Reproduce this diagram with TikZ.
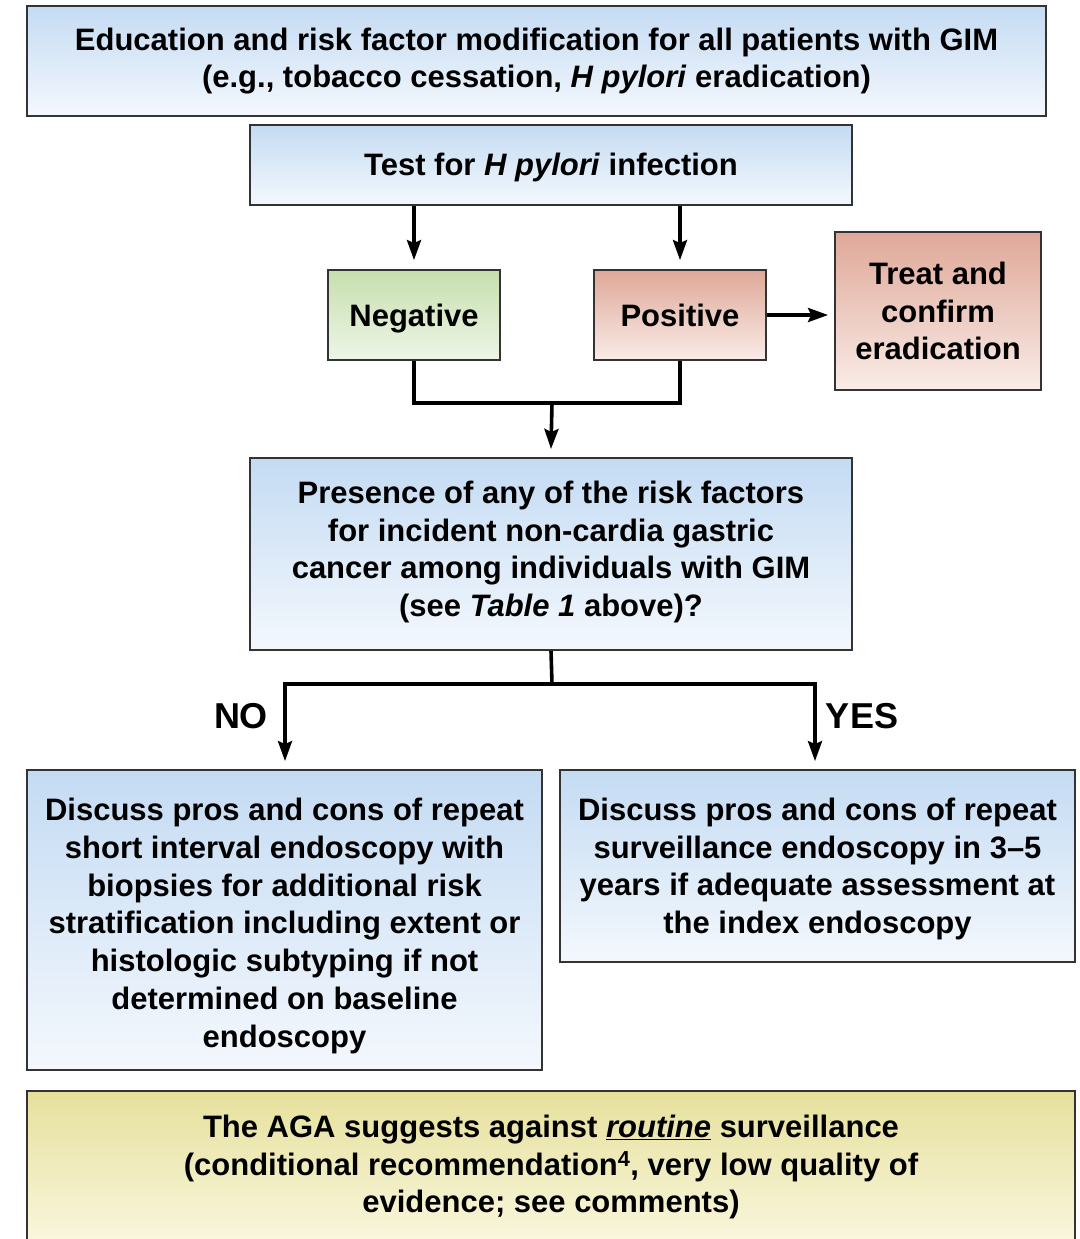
\documentclass[tikz,border=0pt]{standalone}
\usepackage{fontspec}
\setmainfont{Liberation Sans}
\usetikzlibrary{arrows.meta,calc}
\definecolor{bluetop}{HTML}{C4DBF3}
\definecolor{bluebot}{HTML}{F4F8FD}
\definecolor{greentop}{HTML}{C6DFAE}
\definecolor{greenbot}{HTML}{EEF5E6}
\definecolor{redtop}{HTML}{DFA898}
\definecolor{redbot}{HTML}{F9ECE7}
\definecolor{yeltop}{HTML}{E6E09C}
\definecolor{yelbot}{HTML}{FDFBEA}
\definecolor{edge}{HTML}{333333}
\newcommand\vpush[1]{\rule{0pt}{#1}}
\newcommand\vdrop[1]{\rule[-#1]{0pt}{1pt}}
\tikzset{
  x=1pt,y=-1pt,
  box/.style={draw=edge,line width=1.8pt,inner sep=0pt,align=center,
    font=\fontsize{31}{37.7}\selectfont\bfseries},
  bluebox/.style={box,top color=bluetop,bottom color=bluebot},
  greenbox/.style={box,top color=greentop,bottom color=greenbot},
  redbox/.style={box,top color=redtop,bottom color=redbot},
  yelbox/.style={box,top color=yeltop,bottom color=yelbot},
  conn/.style={line width=3.6pt,black},
  arr/.style={conn,-{Stealth[length=20pt,width=14pt,inset=3pt]}},
  lbl/.style={font=\fontsize{36}{40}\selectfont\bfseries,inner sep=0pt},
}
\begin{document}
\begin{tikzpicture}
\useasboundingbox (0,0) rectangle (1079,1239);
\fill[white] (0,0) rectangle (1079,1239);
% boxes
\node[bluebox,minimum width=1019pt,minimum height=110pt] (top) at (536.5,61)
  {Education and risk factor modification for all patients with GIM\\
   (e.g., tobacco cessation, \textit{H pylori} eradication)};
\node[bluebox,minimum width=602pt,minimum height=80pt,text height=21pt,text depth=0pt] (test) at (551,165)
  {Test for \textit{H pylori} infection};
\node[greenbox,minimum width=172pt,minimum height=90pt,text height=23pt,text depth=0pt] (neg) at (414,315)
  {Negative};
\node[redbox,minimum width=172pt,minimum height=90pt,text height=23pt,text depth=0pt] (pos) at (680,315)
  {Positive};
\node[redbox,minimum width=206pt,minimum height=158pt] (treat) at (938,311)
  {Treat and\\ confirm\\ eradication};
\node[bluebox,minimum width=602pt,minimum height=192pt] (q) at (551,554)
  {Presence of any of the risk factors\\
   for incident non-cardia gastric\\
   cancer among individuals with GIM\\
   (see \textit{Table 1} above)?\vdrop{10.5pt}};
\node[bluebox,minimum width=515pt,minimum height=300pt] (left) at (284.5,920)
  {\vpush{34.4pt}Discuss pros and cons of repeat\\
   short interval endoscopy with\\
   biopsies for additional risk\\
   stratification including extent or\\
   histologic subtyping if not\\
   determined on baseline\\
   endoscopy};
\node[bluebox,minimum width=515pt,minimum height=192pt] (right) at (817.5,866)
  {\vpush{28.6pt}Discuss pros and cons of repeat\\
   surveillance endoscopy in 3--5\\
   years if adequate assessment at\\
   the index endoscopy};
\node[yelbox,anchor=north,minimum width=1048pt,minimum height=180pt] (aga) at (551,1090) {};
\node[font=\fontsize{31}{37.7}\selectfont\bfseries,align=center,inner sep=0pt]
  (agatext) at (551,1167)
  {The AGA suggests against \underline{\textit{routine}} surveillance\\
   (conditional recommendation\textsuperscript{4}, very low quality of\\
   evidence; see comments)};
% connectors
\draw[arr] (neg.north |- test.south) -- ($(neg.north)+(0,-9)$) coordinate (negin);
\draw[arr] (pos.north |- test.south) -- ($(pos.north)+(0,-9)$) coordinate (posin);
\draw[arr] (pos.east) -- ($(treat.west |- pos.east)+(-6,0)$) coordinate (treatin);
\coordinate (j1) at (552,403);
\draw[conn] (neg.south) |- (j1) -| (pos.south);
\draw[arr] (j1) -- ($(q.north |- j1)+(0,46)$) coordinate (qin);
\coordinate (j2) at (552,684);
\draw[conn] (q.south) -- (j2);
\draw[arr] (j2) -| ($(left.north)+(0.5,-8)$) coordinate (leftin);
\draw[arr] (j2) -| ($(right.north)+(-2.5,-8)$) coordinate (rightin);
\node[lbl] (no) at (241,716) {NO};
\node[lbl] (yes) at (862,716) {YES};
\end{tikzpicture}
\end{document}
